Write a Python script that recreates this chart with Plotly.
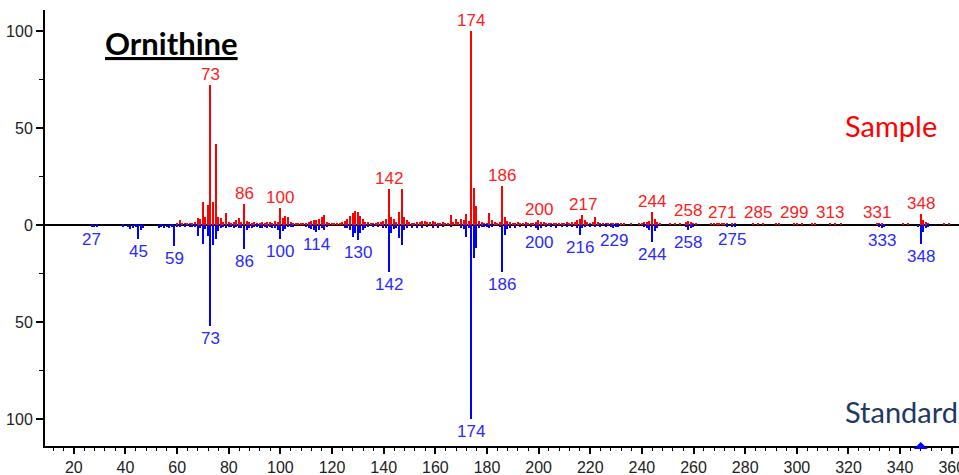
import plotly.graph_objects as go

# Mirror plot of a GC-MS spectrum: sample (up) vs. library standard (down)
sample_mz = [
    60, 61, 62, 63, 64, 65, 66, 67, 68, 69, 70, 71, 72, 73, 74, 75, 76, 77, 78, 79,
    80, 81, 82, 83, 84, 85, 86, 87, 88, 89, 90, 91, 92, 93, 94, 95, 96, 97, 98, 99,
    100, 101, 102, 103, 104, 105, 106, 107, 108, 109, 110, 111, 112, 113, 114, 115, 116, 117, 118, 119,
    120, 121, 122, 123, 124, 125, 126, 127, 128, 129, 130, 131, 132, 133, 134, 135, 136, 137, 138, 139,
    140, 141, 142, 143, 144, 145, 146, 147, 148, 149, 150, 151, 152, 153, 154, 155, 156, 157, 158, 159,
    160, 161, 162, 163, 164, 165, 166, 167, 168, 169, 170, 171, 172, 173, 174, 175, 176, 177, 178, 179,
    180, 181, 182, 183, 184, 185, 186, 187, 188, 189, 190, 191, 192, 193, 194, 195, 196, 197, 198, 199,
    200, 201, 202, 203, 204, 205, 206, 207, 208, 209, 210, 211, 212, 213, 214, 215, 216, 217, 218, 219,
    220, 221, 222, 223, 224, 225, 226, 227, 228, 229, 230, 231, 232, 233, 236, 239, 240, 241, 242, 243,
    244, 245, 246, 247, 251, 253, 255, 257, 258, 259, 260, 261, 267, 268, 269, 270, 271, 272, 273, 275,
    276, 283, 285, 287, 292, 293, 299, 300, 302, 306, 307, 313, 315, 317, 331, 332, 333, 341, 343, 348,
    349, 350, 351, 357, 359,
]
sample_int = [
    1.0, 2.6, 1.0, 1.2, 0.8, 1.1, 0.9, 1.5, 3.6, 3.0, 12.0, 4.0, 10.5, 72.0, 12.0, 42.0, 4.3, 3.8, 1.5, 6.3,
    1.4, 1.0, 1.3, 2.6, 3.8, 1.6, 11.0, 2.2, 1.5, 1.1, 1.3, 1.0, 1.2, 1.4, 1.0, 1.5, 1.6, 1.1, 1.9, 1.6,
    9.0, 3.4, 4.5, 4.3, 1.3, 1.0, 1.1, 1.0, 0.9, 1.0, 1.2, 1.4, 2.2, 2.7, 2.5, 3.2, 4.0, 5.3, 1.5, 1.0,
    1.0, 1.2, 1.0, 1.1, 1.3, 2.0, 3.0, 4.8, 6.0, 7.4, 6.5, 4.8, 3.1, 1.7, 1.4, 1.2, 1.0, 1.1, 1.3, 1.5,
    2.0, 3.0, 18.5, 4.0, 3.2, 1.8, 6.9, 18.5, 4.0, 2.7, 1.3, 1.2, 1.0, 1.5, 1.8, 2.0, 2.0, 1.7, 1.4, 2.2,
    1.5, 1.2, 1.0, 1.3, 1.2, 1.0, 5.1, 1.5, 3.0, 1.3, 3.0, 2.4, 5.6, 2.0, 100.0, 19.0, 9.6, 2.2, 1.4, 1.2,
    1.0, 6.2, 2.7, 1.3, 1.2, 1.4, 20.2, 4.0, 2.2, 1.3, 1.2, 1.1, 1.3, 1.0, 1.2, 1.3, 1.0, 1.1, 1.2, 1.4,
    2.6, 1.4, 1.5, 1.2, 1.0, 1.1, 1.0, 1.2, 1.0, 1.2, 1.0, 1.3, 1.1, 1.4, 1.6, 2.7, 3.0, 5.1, 2.4, 1.4,
    1.2, 1.3, 3.9, 1.4, 1.0, 1.1, 1.0, 0.9, 1.0, 1.1, 1.0, 0.9, 1.0, 0.8, 0.8, 0.9, 1.0, 1.5, 1.7, 2.2,
    6.9, 3.1, 1.5, 1.2, 0.8, 0.8, 0.8, 1.3, 2.2, 1.6, 1.2, 0.9, 0.9, 0.8, 1.0, 0.9, 1.1, 0.9, 0.8, 0.9,
    0.7, 0.7, 1.0, 0.8, 0.7, 0.8, 0.9, 0.8, 0.7, 0.7, 0.8, 0.9, 0.8, 0.7, 1.2, 0.9, 0.8, 0.7, 0.8, 5.6,
    2.7, 1.4, 0.8, 0.8, 0.8,
]

standard_mz = [
    27, 28, 29, 39, 41, 42, 43, 44, 45, 46, 47, 53, 54, 55, 56, 57, 58, 59, 60, 61,
    63, 65, 66, 67, 68, 69, 70, 71, 72, 73, 74, 75, 76, 77, 78, 79, 80, 81, 82, 83,
    84, 85, 86, 87, 88, 89, 90, 91, 92, 93, 94, 95, 96, 97, 98, 99, 100, 101, 102, 103,
    104, 105, 110, 111, 112, 113, 114, 115, 116, 117, 118, 125, 126, 127, 128, 129, 130, 131, 132, 133,
    134, 136, 138, 140, 141, 142, 143, 144, 145, 146, 147, 148, 149, 151, 153, 155, 157, 159, 161, 163,
    166, 170, 171, 172, 173, 174, 175, 176, 177, 178, 179, 180, 181, 182, 185, 186, 187, 188, 189, 191,
    193, 195, 197, 199, 200, 201, 203, 205, 207, 209, 211, 213, 215, 216, 217, 218, 220, 222, 224, 226,
    228, 229, 230, 231, 241, 242, 243, 244, 245, 246, 257, 258, 259, 260, 273, 275, 276, 332, 333, 334,
    347, 348, 349, 350, 351,
]
standard_int = [
    1.0, 1.2, 0.9, 1.0, 1.2, 2.2, 1.6, 1.0, 7.2, 2.5, 1.7, 1.3, 1.0, 1.6, 1.2, 1.5, 1.0, 11.0, 1.2, 1.0,
    0.8, 1.0, 1.2, 1.0, 5.5, 1.4, 9.8, 2.0, 5.5, 52.0, 10.3, 7.2, 2.9, 1.6, 1.2, 1.5, 1.0, 1.2, 1.6, 1.2,
    1.8, 1.4, 12.5, 2.8, 1.7, 1.4, 1.2, 1.0, 1.3, 1.8, 1.2, 1.5, 1.2, 1.4, 1.6, 2.5, 7.2, 2.9, 1.9, 1.2,
    1.0, 1.1, 1.2, 1.4, 2.0, 2.6, 3.5, 2.6, 1.5, 2.6, 1.2, 1.5, 1.7, 2.6, 6.0, 4.3, 7.7, 4.3, 2.6, 1.5,
    1.2, 1.0, 1.2, 1.4, 1.5, 24.0, 4.3, 2.0, 1.7, 6.9, 10.3, 2.4, 1.5, 1.3, 1.6, 1.4, 1.2, 1.5, 1.3, 1.2,
    1.2, 1.5, 2.0, 6.0, 1.5, 100.0, 17.1, 12.0, 1.8, 1.2, 1.0, 1.0, 1.4, 1.0, 1.2, 24.0, 5.1, 2.2, 1.3, 1.3,
    1.2, 1.4, 1.1, 1.3, 2.6, 1.4, 1.2, 1.0, 1.3, 1.1, 1.0, 1.2, 1.6, 5.1, 1.8, 1.2, 1.0, 1.1, 0.9, 1.0,
    0.8, 1.5, 1.0, 0.8, 1.0, 1.3, 2.5, 8.6, 3.0, 1.5, 1.2, 2.6, 1.5, 1.0, 0.8, 1.2, 0.8, 1.0, 1.3, 1.0,
    1.2, 9.6, 3.4, 1.7, 1.0,
]

# Annotated peaks of each spectrum
sample_labels = [73, 86, 100, 142, 174, 186, 200, 217, 244, 258, 271, 285, 299, 313, 331, 348]
standard_labels = [27, 45, 59, 73, 86, 100, 114, 130, 142, 174, 186, 200, 216, 229, 244, 258, 275, 333, 348]

# Cursor position on the m/z axis
cursor_mz = 348

x_ticks = list(range(0, 381, 20))
y_tickvals = [-100, -50, 0, 50, 100]
y_ticktext = ["100", "50", "0", "50", "100"]

RED = "#ff0000"
BLUE = "#0000ff"
LABEL_RED = "#ff2020"
LABEL_BLUE = "#2a2aff"
TICK_FONT = dict(family="Liberation Sans, Arial, sans-serif", size=16, color="#222222")
PEAK_FONT = "Liberation Sans, Arial, sans-serif"
TEXT_FONT = "Lato, Open Sans, sans-serif"

fig = go.Figure()
fig.add_trace(go.Bar(
    x=sample_mz, y=sample_int, width=0.55,
    marker=dict(color=RED, line=dict(width=0)), name="Sample",
))
fig.add_trace(go.Bar(
    x=standard_mz, y=[-v for v in standard_int], width=0.55,
    marker=dict(color=BLUE, line=dict(width=0)), name="Standard",
))

sample_lookup = dict(zip(sample_mz, sample_int))
standard_lookup = dict(zip(standard_mz, standard_int))

annotations = []
for mz in sample_labels:
    annotations.append(dict(
        x=mz, y=sample_lookup[mz], xref="x", yref="y", text=str(mz),
        showarrow=False, yanchor="bottom", xanchor="center", yshift=-1,
        font=dict(family=PEAK_FONT, size=17, color=LABEL_RED),
    ))
for mz in standard_labels:
    annotations.append(dict(
        x=mz, y=-standard_lookup[mz], xref="x", yref="y", text=str(mz),
        showarrow=False, yanchor="top", xanchor="center", yshift=-1,
        font=dict(family=PEAK_FONT, size=17, color=LABEL_BLUE),
    ))

annotations.append(dict(
    x=0.0635, y=0.925, xref="paper", yref="paper", text="<b><u>Ornithine</u></b>",
    showarrow=False, xanchor="left", yanchor="middle",
    font=dict(family=TEXT_FONT, size=31, color="#000000"),
))
annotations.append(dict(
    x=0.873, y=0.736, xref="paper", yref="paper", text="Sample",
    showarrow=False, xanchor="left", yanchor="middle",
    font=dict(family=TEXT_FONT, size=29, color="#ff0000"),
))
annotations.append(dict(
    x=0.873, y=0.078, xref="paper", yref="paper", text="Standard",
    showarrow=False, xanchor="left", yanchor="middle",
    font=dict(family=TEXT_FONT, size=29, color="#1f3864"),
))

fig.update_layout(
    width=959, height=475,
    margin=dict(l=45, r=0, t=10, b=29, autoexpand=False),
    paper_bgcolor="white", plot_bgcolor="white",
    barmode="overlay", bargap=0, showlegend=False,
    annotations=annotations,
    shapes=[dict(
        type="path", xref="x", yref="paper",
        xsizemode="pixel", ysizemode="pixel",
        xanchor=cursor_mz, yanchor=0,
        path="M-7,-3 L7,-3 L0,4 Z",
        fillcolor=BLUE, line=dict(width=0), layer="above",
    )],
)

fig.update_xaxes(
    range=[8.83, 362.8], tickvals=x_ticks, ticktext=[str(v) for v in x_ticks],
    ticks="outside", ticklen=6, tickwidth=1.5, tickcolor="black",
    ticklabeloverflow="allow", automargin=False,
    minor=dict(dtick=4, tick0=0, ticks="outside", ticklen=3, tickwidth=1, tickcolor="black", showgrid=False),
    showline=True, linecolor="black", linewidth=2,
    showgrid=False, zeroline=False, tickfont=TICK_FONT,
)
fig.update_yaxes(
    range=[-113.9, 110.8], tickvals=y_tickvals, ticktext=y_ticktext,
    ticks="outside", ticklen=7, tickwidth=1.5, tickcolor="black", automargin=False,
    minor=dict(tickvals=[-75, -25, 25, 75], ticks="outside", ticklen=4, tickwidth=1, tickcolor="black", showgrid=False),
    showline=True, linecolor="black", linewidth=2,
    showgrid=False, zeroline=True, zerolinecolor="black", zerolinewidth=2,
    tickfont=TICK_FONT,
)

fig.write_html("out.html")
